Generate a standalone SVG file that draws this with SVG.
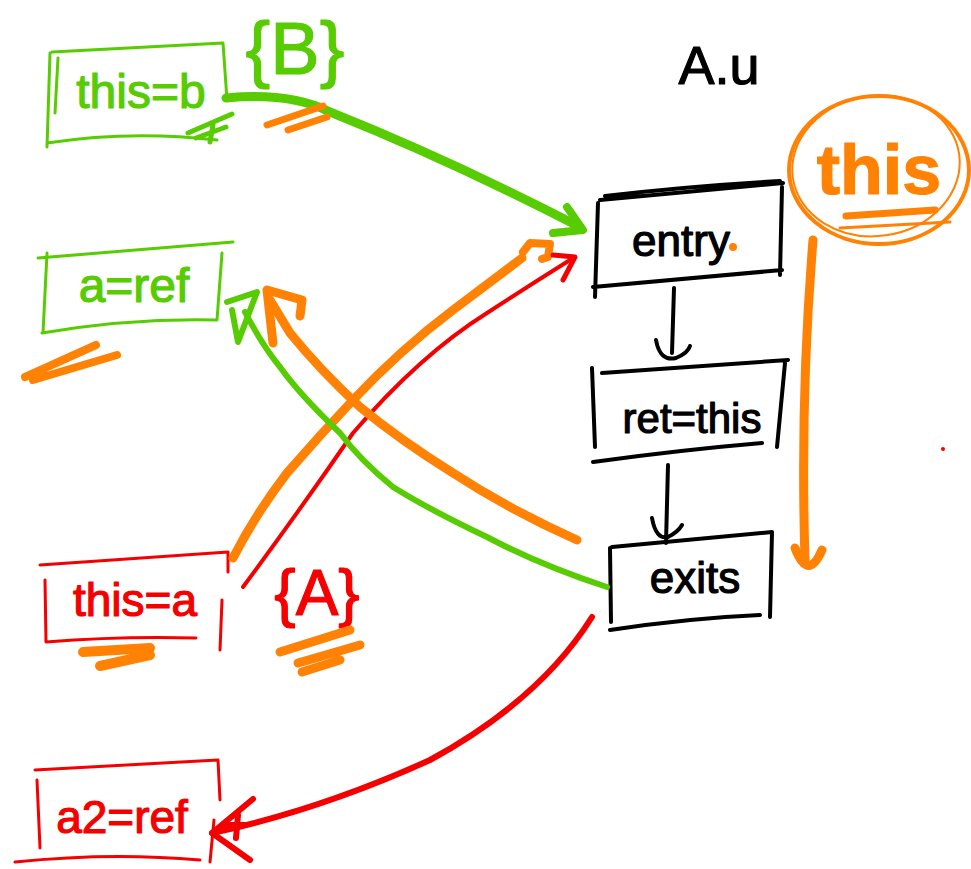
<svg xmlns="http://www.w3.org/2000/svg" width="971" height="869" viewBox="0 0 971 869">
  <style>
    .ink { fill: none; stroke-linecap: round; stroke-linejoin: round; }
    .g { stroke: #58cc02; }
    .o { stroke: #ff8205; }
    .r { stroke: #f50000; }
    .k { stroke: #000; }
    .lbl { font-family: "Liberation Sans", "DejaVu Sans", sans-serif; text-anchor: middle; stroke-width: 1.2; stroke-linejoin: round; }
  </style>
  <rect width="971" height="869" fill="#fff"/>

  <!-- caller frames -->
  <g id="node-this-b">
    <path class="ink g" stroke-width="3" d="M52,52 L223,43 L227,100 M50,53 L47,147 M58,58 L55,113 M47,143 Q130,130 217,140"/>
    <text class="lbl" x="141" y="108" font-size="48" fill="#58cc02" stroke="#58cc02">this=b</text>
    <path class="ink g" stroke-width="5" d="M188,133 L232,114 M196,138 L226,127 M213,125 L210,142"/>
  </g>
  <g id="label-B">
    <text class="lbl" x="295" y="74" font-size="74" fill="#58cc02" stroke="#58cc02" stroke-width="3">{B}</text>
  </g>

  <g id="node-a-ref">
    <path class="ink g" stroke-width="3" d="M38,258 L233,242 M47,253 L43,333 M222,253 L217,320 M42,333 Q130,318 217,320"/>
    <text class="lbl" x="134" y="302" font-size="48" fill="#58cc02" stroke="#58cc02">a=ref</text>
  </g>

  <g id="node-this-a">
    <path class="ink r" stroke-width="3" d="M40,565 L228,552 L228,572 M45,580 L46,642 Q120,636 196,638 M222,600 L220,650"/>
    <text class="lbl" x="135" y="616" font-size="46" fill="#f50000" stroke="#f50000">this=a</text>
  </g>
  <g id="label-A">
    <text class="lbl" x="317" y="615" font-size="64" fill="#f50000" stroke="#f50000" stroke-width="2">{A}</text>
  </g>

  <g id="node-a2-ref">
    <path class="ink r" stroke-width="3" d="M35,770 L218,760 L220,800 M37,780 L40,848 M15,862 Q110,852 200,860 M214,820 L210,862"/>
    <text class="lbl" x="122" y="833" font-size="46" fill="#f50000" stroke="#f50000">a2=ref</text>
  </g>

  <!-- method body A.u -->
  <g id="title-Au">
    <text class="lbl" x="719" y="84" font-size="54" fill="#000" stroke="#000">A.u</text>
  </g>
  <g id="node-entry">
    <path class="ink k" stroke-width="4" d="M600,200 L783,183 M598,203 L595,297 M782,187 L780,275 M593,287 L782,270 M605,196 Q690,186 780,181"/>
    <text class="lbl" x="681" y="256" font-size="44" fill="#000" stroke="#000">entry</text>
    <circle cx="733" cy="247" r="4" fill="#ff8205"/>
  </g>
  <g id="node-ret-this">
    <path class="ink k" stroke-width="4" d="M602,373 L788,360 M592,368 L595,447 M785,363 L777,447 M593,462 Q680,450 762,443"/>
    <text class="lbl" x="692" y="433" font-size="42" fill="#000" stroke="#000">ret=this</text>
  </g>
  <g id="node-exits">
    <path class="ink k" stroke-width="4" d="M612,547 L772,532 M610,548 L611,622 M772,532 L770,617 M610,630 Q690,618 760,615"/>
    <text class="lbl" x="695" y="593" font-size="44" fill="#000" stroke="#000">exits</text>
  </g>

  <g id="node-this-circle">
    <ellipse cx="879" cy="170" rx="90" ry="74" class="ink o" stroke-width="4"/>
    <ellipse cx="876" cy="166" rx="84" ry="70" class="ink o" stroke-width="2" transform="rotate(-8 876 166)"/>
    <text class="lbl" x="879" y="194" font-size="70" font-weight="bold" fill="#ff8205" stroke="#ff8205">this</text>
    <path class="ink o" stroke-width="7" d="M846,216 L935,210"/>
    <path class="ink o" stroke-width="3" d="M840,228 L950,222"/>
  </g>

  <g id="red-dot">
    <circle cx="943" cy="449" r="2" fill="#f50000"/>
  </g>

  <!-- connectors -->
  <g id="connectors">
    <!-- control flow inside A.u -->
    <path class="ink k" stroke-width="4" d="M674,288 L672,353 M656,340 Q660,362 676,358 Q688,353 690,346"/>
    <path class="ink k" stroke-width="4" d="M668,465 L666,543 M652,518 Q656,540 668,537 Q678,532 682,525"/>

    <!-- this flows through to the exit -->
    <path class="ink o" stroke-width="9" d="M813,240 Q800,400 805,560"/>
    <path class="ink o" stroke-width="9" d="M795,548 Q808,582 822,550"/>

    <!-- this=b into entry -->
    <path class="ink g" stroke-width="9" d="M226,98 Q290,92 330,112 Q450,160 578,226"/>
    <path class="ink g" stroke-width="8" d="M567,207 L583,230 L553,233"/>

    <!-- this=a into entry -->
    <path class="ink o" stroke-width="9" d="M233,558 Q255,515 287,473 Q320,435 353,400 Q400,350 453,310 Q490,282 522,258"/>
    <path class="ink o" stroke-width="8" d="M523,252 L530,243 L550,244 L548,257 L542,259"/>
    <path class="ink r" stroke-width="4" d="M243,587 Q300,510 353,433 Q420,355 487,313 Q530,285 570,260"/>
    <path class="ink r" stroke-width="5" d="M553,255 L575,257 L563,280"/>

    <!-- exits back to a=ref -->
    <path class="ink o" stroke-width="9" d="M577,540 Q510,510 453,473 Q400,440 360,407 Q320,370 290,333 L270,300"/>
    <path class="ink o" stroke-width="9" d="M273,343 L267,290 L302,300 L300,316"/>
    <path class="ink g" stroke-width="6" d="M607,587 Q540,565 487,537 Q430,510 393,487 Q360,460 340,433 Q300,395 280,367 Q262,345 245,312"/>
    <path class="ink g" stroke-width="6" d="M227,302 L257,292 L238,342 L232,310"/>

    <!-- exits down to a2=ref -->
    <path class="ink r" stroke-width="6" d="M592,617 Q540,700 430,760 Q320,810 212,833"/>
    <path class="ink r" stroke-width="6" d="M253,799 L212,833 L250,860 M222,825 L245,825 M238,815 L236,838"/>

    <!-- orange scribbles under the labels -->
    <path class="ink o" stroke-width="7" d="M267,125 L323,106 M288,130 L327,117"/>
    <path class="ink o" stroke-width="8" d="M25,377 L96,345 M33,380 L117,355"/>
    <path class="ink o" stroke-width="10" d="M83,652 L150,648 M100,666 L150,655"/>
    <path class="ink o" stroke-width="9" d="M280,652 L350,630 M298,663 L360,645 M302,672 L340,660"/>
  </g>
</svg>
